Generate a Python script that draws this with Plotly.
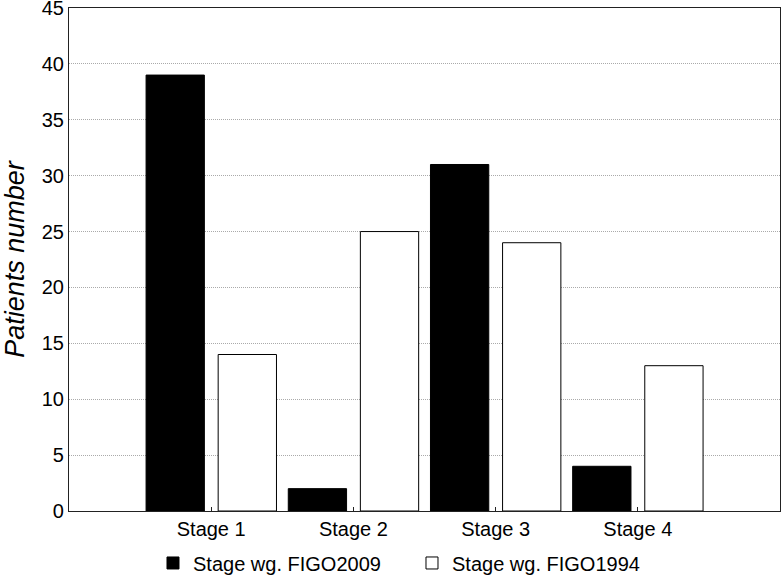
import plotly.graph_objects as go

categories = ["Stage 1", "Stage 2", "Stage 3", "Stage 4"]
figo2009 = [39, 2, 31, 4]
figo1994 = [14, 25, 24, 13]
series_names = ["Stage wg. FIGO2009", "Stage wg. FIGO1994"]
y_ticks = [0, 5, 10, 15, 20, 25, 30, 35, 40, 45]

fig = go.Figure()
fig.add_trace(go.Bar(
    x=categories, y=figo2009, name=series_names[0],
    width=0.41, offset=-0.458,
    marker=dict(color="black", line=dict(color="black", width=1)),
))
fig.add_trace(go.Bar(
    x=categories, y=figo1994, name=series_names[1],
    width=0.41, offset=0.049,
    marker=dict(color="white", line=dict(color="black", width=1)),
))

font_family = "Liberation Sans, Arial, sans-serif"
fig.update_layout(
    width=783, height=576,
    margin=dict(l=69, r=3, t=8, b=65),
    paper_bgcolor="white", plot_bgcolor="white",
    barmode="overlay",
    font=dict(family=font_family, size=20, color="black"),
    showlegend=True,
    legend=dict(orientation="h", xref="container", yref="container",
                x=0.1954, xanchor="left", y=0.0226, yanchor="middle",
                bgcolor="rgba(0,0,0,0)",
                font=dict(size=20), entrywidth=214, entrywidthmode="pixels",
                traceorder="normal"),
    xaxis=dict(
        range=[-1, 4], showline=True, mirror=True, linecolor="#222", linewidth=1.2,
        ticks="inside", ticklen=4, tickcolor="#222", showgrid=False,
        tickfont=dict(size=20), automargin=False,
    ),
    yaxis=dict(
        range=[0, 45], tickvals=y_ticks, showline=True, mirror=True,
        linecolor="#222", linewidth=1.2, ticks="", showgrid=True,
        gridcolor="#aaaaaa", griddash="1px,1px", gridwidth=1, zeroline=False,
        tickfont=dict(size=20), ticklabeloverflow="allow", automargin=False,
        title=dict(text="<i>Patients number</i>", font=dict(size=27)),
    ),
)
post = (
    "document.documentElement.style.margin='0';"
    "document.documentElement.style.overflow='hidden';"
    "document.body.style.margin='0';"
    "document.body.style.padding='0';"
    "document.body.style.overflow='hidden';"
)
fig.write_html(
    "out.html",
    config={"displayModeBar": False},
    post_script=post,
)
